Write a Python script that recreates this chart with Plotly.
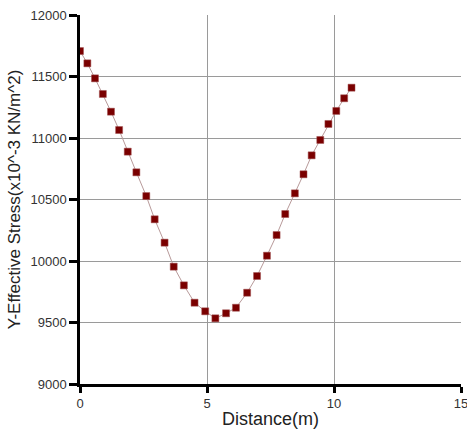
import plotly.graph_objects as go

distance = [0, 0.29, 0.59, 0.90, 1.22, 1.54, 1.88, 2.22, 2.61, 2.94, 3.33, 3.69, 4.09, 4.51,
            4.93, 5.33, 5.75, 6.14, 6.58, 6.97, 7.36, 7.74, 8.08, 8.46, 8.80, 9.12, 9.46,
            9.78, 10.09, 10.40, 10.69]
stress = [11707, 11607, 11485, 11358, 11214, 11065, 10889, 10721, 10528, 10339, 10149, 9954,
          9802, 9661, 9591, 9534, 9575, 9620, 9742, 9878, 10043, 10211, 10382, 10550, 10705,
          10859, 10984, 11114, 11220, 11323, 11409]
x_ticks = [0, 5, 10, 15]
y_ticks = [9000, 9500, 10000, 10500, 11000, 11500, 12000]

font_family = "Liberation Sans, Arial, sans-serif"

fig = go.Figure()
fig.add_trace(go.Scatter(
    x=distance, y=stress, mode="lines+markers",
    line=dict(color="#b89a9a", width=1),
    marker=dict(symbol="square", size=7, color="#7a0000",
                line=dict(color="#a05050", width=0.5)),
    showlegend=False, hoverinfo="skip"))

fig.update_layout(
    template="none",
    width=467, height=437,
    margin=dict(l=80, r=6, t=15, b=53, autoexpand=False),
    paper_bgcolor="white", plot_bgcolor="white",
    font=dict(family=font_family, color="#333333"),
    xaxis=dict(
        range=[0, 15], tickvals=x_ticks, tickformat="d",
        showgrid=True, gridcolor="#9a9a9a", gridwidth=1,
        showline=True, linecolor="#000000", linewidth=2.5,
        ticks="outside", ticklen=6, tickwidth=2.5, tickcolor="#000000",
        ticklabeloverflow="allow",
        tickfont=dict(size=13, color="#333333"),
        title=dict(text="Distance(m)", font=dict(size=18, color="#222222"), standoff=3),
        zeroline=False),
    yaxis=dict(
        range=[9000, 12000], tickvals=y_ticks, tickformat="d",
        showgrid=True, gridcolor="#9a9a9a", gridwidth=1,
        showline=True, linecolor="#000000", linewidth=2.5,
        ticks="outside", ticklen=8, tickwidth=2.5, tickcolor="#000000",
        tickfont=dict(size=13, color="#333333"),
        title=dict(text="Y-Effective Stress(x10^-3 KN/m^2)",
                   font=dict(size=17, color="#222222"), standoff=6),
        zeroline=False),
)

fig.write_html("out.html")
